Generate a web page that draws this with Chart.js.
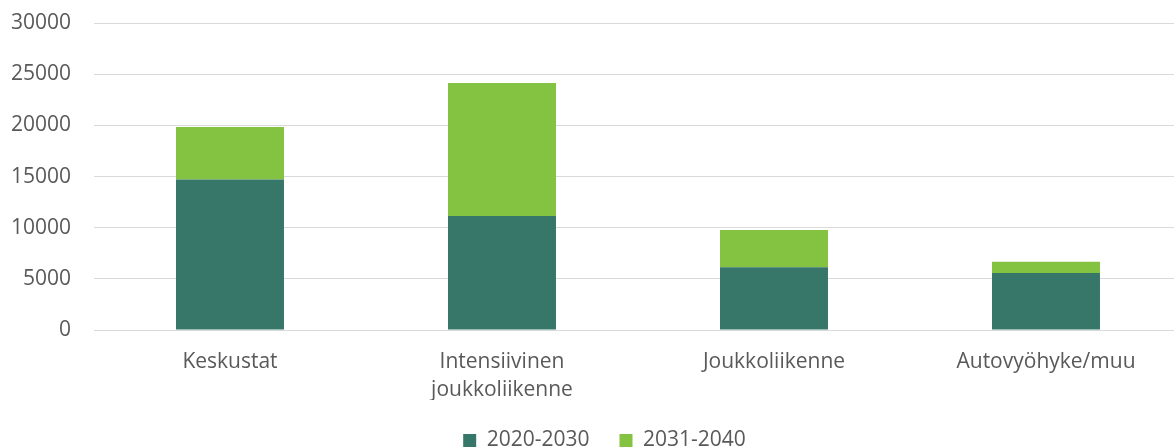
<!DOCTYPE html>
<html>
<head>
<meta charset="utf-8">
<script src="https://cdn.jsdelivr.net/npm/chart.js@4"></script>
<style>
html,body{margin:0;padding:0;background:#fff;overflow:hidden;}
#outer{width:1174px;height:448px;overflow:hidden;position:relative;}
#inner{width:1209px;height:448px;position:absolute;left:0;top:0;}
</style>
</head>
<body>
<div id="outer"><div id="inner"><canvas id="c"></canvas></div></div>
<script>
const categories = ['Keskustat', ['Intensiivinen', 'joukkoliikenne'], 'Joukkoliikenne', 'Autovyöhyke/muu'];
const series1Name = '2020-2030';
const series2Name = '2031-2040';
const series1 = [14700, 11150, 6130, 5580];
const series2 = [5150, 12980, 3650, 1100];
const yTicks = [0, 5000, 10000, 15000, 20000, 25000, 30000];

const font = { family: "'Open Sans', 'Noto Sans', sans-serif", size: 21 };
const textColor = '#595959';

const legendShift = {
  id: 'legendShift',
  beforeInit(chart) {
    const lg = chart.legend;
    if (!lg) return;
    const origFit = lg.fit;
    lg.fit = function () { origFit.call(this); this.height -= 13; };
    const origDraw = lg.draw;
    lg.draw = function (a) {
      const ctx = this.ctx;
      ctx.save();
      ctx.translate(13.5, 0);
      origDraw.call(this, a);
      ctx.restore();
    };
  }
};

new Chart(document.getElementById('c'), {
  type: 'bar',
  data: {
    labels: categories,
    datasets: [
      { label: series1Name, data: series1, backgroundColor: '#37776a', borderWidth: 0 },
      { label: series2Name, data: series2, backgroundColor: '#84c341', borderWidth: 0 }
    ]
  },
  plugins: [legendShift],
  options: {
    responsive: true,
    maintainAspectRatio: false,
    animation: false,
    layout: { padding: { left: 0, right: 27, top: 23, bottom: 0 } },
    datasets: { bar: { barPercentage: 1, categoryPercentage: 0.397 } },
    plugins: {
      legend: {
        position: 'bottom',
        labels: { boxWidth: 13, boxHeight: 13, padding: 30, color: textColor, font: font }
      },
      tooltip: { enabled: false }
    },
    scales: {
      x: {
        stacked: true,
        grid: { display: false, drawTicks: false },
        border: { display: true, color: '#d9d9d9', width: 1 },
        ticks: { color: textColor, font: { ...font, lineHeight: 1.38 }, padding: 17, maxRotation: 0, autoSkip: false },
        afterFit: (scale) => { scale.height -= 22; }
      },
      y: {
        stacked: true,
        min: 0, max: 30000,
        afterBuildTicks: (axis) => { axis.ticks = yTicks.map(v => ({ value: v })); },
        afterFit: (scale) => { scale.width = 94; scale.paddingTop = 0; scale.paddingBottom = 0; },
        grid: { color: '#d9d9d9', lineWidth: 1, drawTicks: false },
        border: { display: false },
        ticks: { color: textColor, font: font, padding: 23, callback: (v) => String(v) }
      }
    }
  }
});
</script>
</body>
</html>
